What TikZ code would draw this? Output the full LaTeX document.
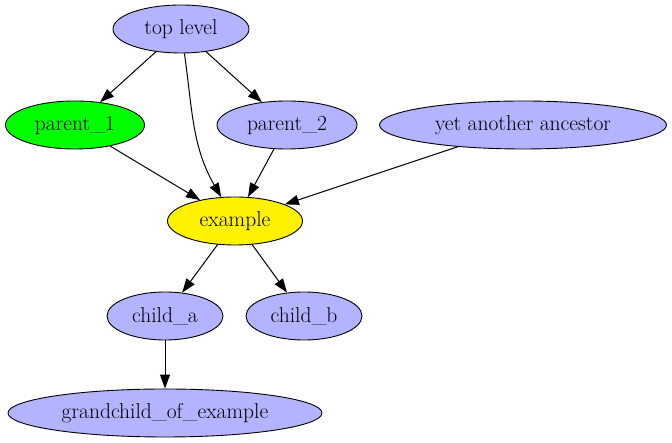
\documentclass[tikz,border=0pt]{standalone}
\usepackage{fontspec}
\setmainfont{Latin Modern Roman}
\usepackage{xcolor}
\usetikzlibrary{shapes.geometric,arrows.meta}
\definecolor{nodeblue}{HTML}{B3B3FF}

\begin{document}
\begin{tikzpicture}[x=1pt,y=1pt,
		ellnode/.style={ellipse, draw=black, fill=nodeblue, line width=0.9pt, minimum height=48pt, inner sep=0pt, font=\fontsize{21.5}{25}\selectfont},
		link/.style={draw=black, line width=1pt, -{Triangle[length=14pt,width=10pt]}}
		]
		\useasboundingbox (0,0) rectangle (672,443);
		
		% Nodes
		\node[ellnode, minimum width=136pt] (TopLevel) at (181,414) {top level};
		\node[ellnode, minimum width=139pt, fill=green] (Parent1) at (75,318) {parent\_1};
		\node[ellnode, minimum width=140pt] (Parent2) at (287,318) {parent\_2};
		\node[ellnode, minimum width=287pt] (Ancestor) at (523,318) {yet another ancestor};
		\node[ellnode, minimum width=135pt, fill=yellow] (Example) at (235,222) {example};
		\node[ellnode, minimum width=116pt] (ChildA) at (165,127) {child\_a};
		\node[ellnode, minimum width=116pt] (ChildB) at (304,127) {child\_b};
		\node[ellnode, minimum width=314pt] (Grandchild) at (165,30) {grandchild\_of\_example};
		
		% Paths into example
		\path[link] (TopLevel) edge (Parent1);
		\path[link] (TopLevel) edge (Parent2);
		\path[link] (TopLevel) edge [out=-82, in=120] (Example);
		\path[link] (Parent1) edge (Example);
		\path[link] (Parent2) edge (Example);
		\path[link] (Ancestor) edge (Example);
		
		% Paths out of example
		\path[link] (Example) edge (ChildA);
		\path[link] (Example) edge (ChildB);
		\path[link] (ChildA) edge (Grandchild);
	\end{tikzpicture}
\end{document}
